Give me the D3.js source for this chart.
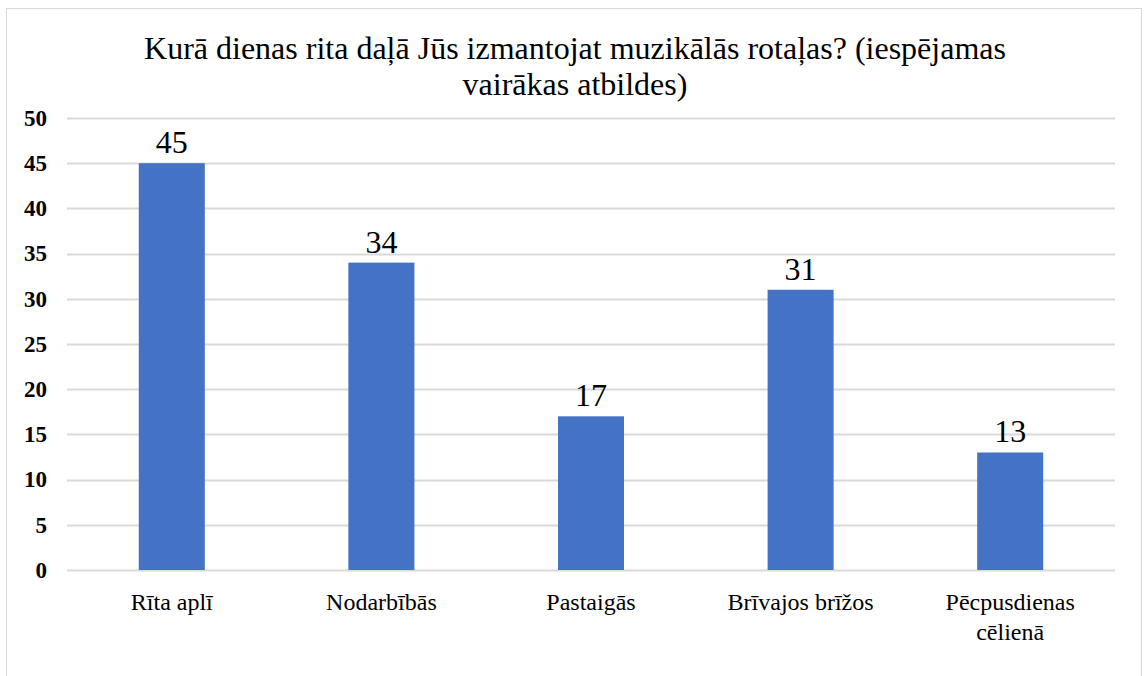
<!DOCTYPE html>
<html>
<head>
<meta charset="utf-8">
<script src="https://cdn.jsdelivr.net/npm/d3@7"></script>
<style>
  body { margin: 0; background: #fff; }
  svg { display: block; }
</style>
</head>
<body>
<div id="chart"></div>
<script>
// data +++++++++++++++++++++++++++++++++++++
const titleLines = ["Kurā dienas rita daļā Jūs izmantojat muzikālās rotaļas? (iespējamas", "vairākas atbildes)"];
const categories = [["Rīta aplī"], ["Nodarbībās"], ["Pastaigās"], ["Brīvajos brīžos"], ["Pēcpusdienas", "cēlienā"]];
const values = [45, 34, 17, 31, 13];
const yTicks = [0, 5, 10, 15, 20, 25, 30, 35, 40, 45, 50];
// data -------------------------------------

const width = 1144;
const height = 676;
const margin = { top: 118, right: 29, bottom: 106, left: 67 };
const serif = "'Liberation Serif', 'Times New Roman', serif";

const svg = d3.select("#chart")
  .append("svg")
  .attr("width", width)
  .attr("height", height);

// outer chart border
svg.append("rect")
  .attr("x", 6.5).attr("y", 8.5)
  .attr("width", 1135).attr("height", 700)
  .attr("fill", "white")
  .attr("stroke", "#d9d9d9")
  .attr("stroke-width", 1);

const x = d3.scaleBand()
  .domain(d3.range(categories.length))
  .range([margin.left, width - margin.right])
  .padding(0);

const y = d3.scaleLinear()
  .domain([0, 50])
  .range([height - margin.bottom, margin.top]);

const barW = x.bandwidth() * 0.315;

// gridlines
svg.append("g")
  .selectAll("line")
  .data(yTicks)
  .join("line")
  .attr("x1", margin.left)
  .attr("x2", width - margin.right)
  .attr("y1", d => Math.round(y(d)) + 0.5)
  .attr("y2", d => Math.round(y(d)) + 0.5)
  .attr("stroke", "#d9d9d9")
  .attr("stroke-width", 2);

// y axis labels
const yAxis = d3.axisLeft(y).tickValues(yTicks).tickSize(0).tickPadding(20);
svg.append("g")
  .attr("transform", `translate(${margin.left},0)`)
  .call(yAxis)
  .call(g => g.select(".domain").remove())
  .selectAll("text")
  .attr("font-family", serif)
  .attr("font-size", "23px")
  .attr("font-weight", "bold")
  .attr("fill", "#000");

// bars
svg.append("g")
  .selectAll("rect")
  .data(values)
  .join("rect")
  .attr("x", (d, i) => x(i) + x.bandwidth() / 2 - barW / 2)
  .attr("y", d => y(d))
  .attr("width", barW)
  .attr("height", d => y(0) - y(d))
  .attr("fill", "#4472c4");

// value labels
svg.append("g")
  .selectAll("text")
  .data(values)
  .join("text")
  .attr("x", (d, i) => x(i) + x.bandwidth() / 2)
  .attr("y", d => y(d) - 10)
  .attr("text-anchor", "middle")
  .attr("font-family", serif)
  .attr("font-size", "32px")
  .attr("fill", "#000")
  .text(d => d);

// category labels
const catG = svg.append("g")
  .selectAll("text")
  .data(categories)
  .join("text")
  .attr("x", (d, i) => x(i) + x.bandwidth() / 2)
  .attr("y", 610)
  .attr("text-anchor", "middle")
  .attr("font-family", serif)
  .attr("font-size", "24px")
  .attr("fill", "#000");

catG.selectAll("tspan")
  .data(d => d)
  .join("tspan")
  .attr("x", function () { return d3.select(this.parentNode).attr("x"); })
  .attr("dy", (d, i) => i === 0 ? 0 : 30)
  .text(d => d);

// title
svg.append("g")
  .selectAll("text")
  .data(titleLines)
  .join("text")
  .attr("x", 575)
  .attr("y", (d, i) => 59 + i * 36)
  .attr("text-anchor", "middle")
  .attr("font-family", serif)
  .attr("font-size", "32px")
  .attr("fill", "#000")
  .text(d => d);
</script>
</body>
</html>
